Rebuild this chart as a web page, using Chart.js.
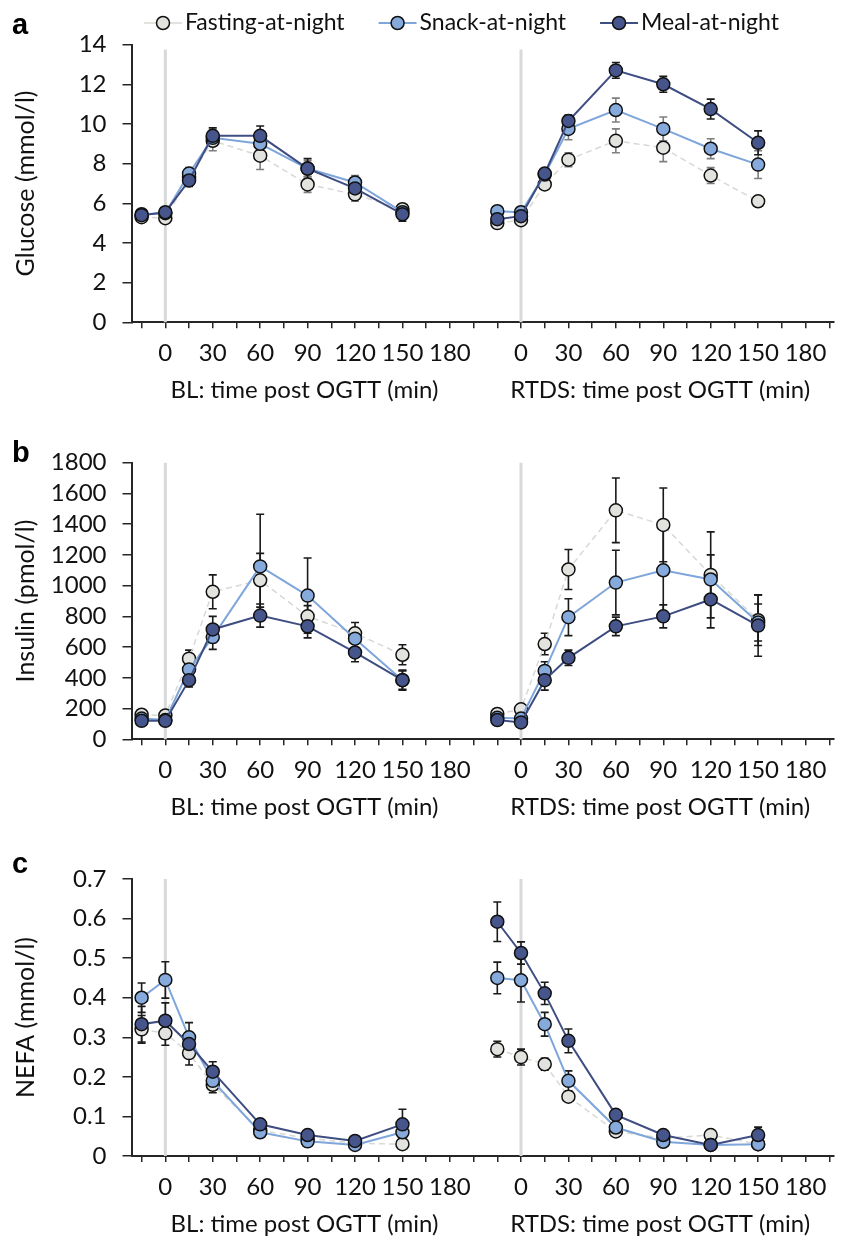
<!DOCTYPE html>
<html><head><meta charset="utf-8">
<script src="https://cdn.jsdelivr.net/npm/chart.js@4.4.0/dist/chart.umd.min.js"></script>
<style>
body{margin:0;background:#fff;width:846px;height:1245px;overflow:hidden;position:relative}
canvas{position:absolute;left:0}
</style></head>
<body>
<canvas id="ca" width="846" height="410" style="top:0px"></canvas>
<canvas id="cb" width="846" height="410" style="top:410px"></canvas>
<canvas id="cc" width="846" height="425" style="top:820px"></canvas>
<script>
// ---------------- DATA ----------------
const timePoints = [-15, 0, 15, 30, 60, 90, 120, 150];
const seriesNames = ['Fasting-at-night', 'Snack-at-night', 'Meal-at-night'];
const xTickLabels = [0, 30, 60, 90, 120, 150, 180];
const periodTitles = ['BL: time post OGTT (min)', 'RTDS: time post OGTT (min)'];

const glucoseTicks = [0, 2, 4, 6, 8, 10, 12, 14];
const insulinTicks = [0, 200, 400, 600, 800, 1000, 1200, 1400, 1600, 1800];
const nefaTicks = [0, 0.1, 0.2, 0.3, 0.4, 0.5, 0.6, 0.7];

// Glucose (mmol/l)
const glucoseBLFasting = [5.3, 5.25, 7.3, 9.15, 8.4, 6.95, 6.45, 5.7];
const glucoseBLFastingErr = [0.2, 0.2, 0.3, 0.5, 0.7, 0.4, 0.35, 0.25];
const glucoseBLSnack = [5.45, 5.5, 7.5, 9.3, 9.0, 7.75, 7.05, 5.55];
const glucoseBLSnackErr = [0.2, 0.2, 0.3, 0.4, 0.5, 0.4, 0.35, 0.3];
const glucoseBLMeal = [5.4, 5.55, 7.15, 9.4, 9.4, 7.75, 6.75, 5.45];
const glucoseBLMealErr = [0.2, 0.2, 0.3, 0.4, 0.5, 0.5, 0.35, 0.35];
const glucoseRTFasting = [5.0, 5.15, 6.95, 8.2, 9.15, 8.8, 7.4, 6.1];
const glucoseRTFastingErr = [0.15, 0.15, 0.25, 0.35, 0.6, 0.7, 0.4, 0.1];
const glucoseRTSnack = [5.6, 5.55, 7.45, 9.75, 10.7, 9.75, 8.75, 7.95];
const glucoseRTSnackErr = [0.15, 0.15, 0.3, 0.55, 0.6, 0.6, 0.5, 0.7];
const glucoseRTMeal = [5.2, 5.35, 7.5, 10.15, 12.7, 12.0, 10.75, 9.05];
const glucoseRTMealErr = [0.15, 0.15, 0.25, 0.3, 0.4, 0.4, 0.5, 0.6];

// Insulin (pmol/l)
const insulinBLFasting = [160, 155, 525, 960, 1035, 800, 690, 550];
const insulinBLFastingErr = [25, 20, 55, 110, 175, 70, 70, 65];
const insulinBLSnack = [135, 125, 455, 665, 1125, 935, 655, 385];
const insulinBLSnackErr = [20, 20, 50, 80, 340, 245, 65, 60];
const insulinBLMeal = [120, 120, 385, 715, 805, 735, 565, 385];
const insulinBLMealErr = [20, 20, 45, 85, 75, 75, 60, 65];
const insulinRTFasting = [165, 195, 620, 1105, 1490, 1395, 1070, 775];
const insulinRTFastingErr = [25, 30, 70, 130, 210, 240, 280, 165];
const insulinRTSnack = [140, 135, 445, 795, 1020, 1100, 1040, 760];
const insulinRTSnackErr = [25, 20, 60, 120, 210, 270, 160, 120];
const insulinRTMeal = [125, 110, 385, 530, 735, 800, 910, 740];
const insulinRTMealErr = [20, 15, 65, 50, 60, 75, 185, 200];

// NEFA (mmol/l)
const nefaBLFasting = [0.32, 0.31, 0.26, 0.18, 0.065, 0.045, 0.032, 0.03];
const nefaBLFastingErr = [0.035, 0.03, 0.03, 0.02, 0.01, 0.008, 0.006, 0.005];
const nefaBLSnack = [0.40, 0.445, 0.30, 0.19, 0.06, 0.037, 0.028, 0.06];
const nefaBLSnackErr = [0.037, 0.046, 0.037, 0.02, 0.01, 0.008, 0.006, 0.015];
const nefaBLMeal = [0.333, 0.342, 0.283, 0.213, 0.08, 0.053, 0.038, 0.08];
const nefaBLMealErr = [0.045, 0.045, 0.03, 0.025, 0.01, 0.008, 0.008, 0.038];
const nefaRTFasting = [0.27, 0.25, 0.232, 0.15, 0.062, 0.045, 0.053, 0.03];
const nefaRTFastingErr = [0.02, 0.02, 0.015, 0.01, 0.008, 0.006, 0.006, 0.005];
const nefaRTSnack = [0.45, 0.444, 0.333, 0.19, 0.072, 0.036, 0.028, 0.03];
const nefaRTSnackErr = [0.04, 0.055, 0.03, 0.025, 0.01, 0.006, 0.005, 0.006];
const nefaRTMeal = [0.592, 0.513, 0.411, 0.291, 0.104, 0.053, 0.028, 0.053];
const nefaRTMealErr = [0.05, 0.028, 0.028, 0.03, 0.01, 0.006, 0.005, 0.02];

// ---------------- LAYOUT / STYLE ----------------
const RTDS_OFFSET = 225;       // RTDS block shifted along the shared time axis
const X_STEP = 15;
const X_MIN = -21.4, X_MAX = 423;
const FONT = "Lato, 'Open Sans', sans-serif";
const FONT_SIZE = 24;
const AXIS_COLOR = '#262626';
const TEXT_COLOR = '#111111';
const seriesStyles = [
  { line: '#d8d8d4', fill: '#e2e2de', dash: [6, 4], width: 1.5 },
  { line: '#7ea6da', fill: '#86aadc', dash: [], width: 2 },
  { line: '#3e4d82', fill: '#46558c', dash: [], width: 2 }
];

const xTickValues = [];
for (let v = -15; v <= RTDS_OFFSET + 195; v += X_STEP) xTickValues.push(v);

function xLabel(v) {
  const t = v >= 195 ? v - RTDS_OFFSET : v;
  return xTickLabels.includes(t) ? String(t) : '';
}
function makePoints(bl, rt) {
  const pts = timePoints.map((t, i) => ({ x: t, y: bl[i] }));
  pts.push({ x: 200, y: null });
  timePoints.forEach((t, i) => pts.push({ x: t + RTDS_OFFSET, y: rt[i] }));
  return pts;
}
function makeErrs(bl, rt) { return bl.concat([null], rt); }

const decorPlugin = {
  id: 'decor',
  beforeDatasetsDraw(chart, args, o) {
    const { ctx, chartArea, scales: { x, y } } = chart;
    ctx.save();
    ctx.strokeStyle = '#d9d9d9'; ctx.lineWidth = 3;
    [0, RTDS_OFFSET].forEach(v => {
      const px = x.getPixelForValue(v);
      ctx.beginPath(); ctx.moveTo(px, chartArea.top + (o.vTop || 0)); ctx.lineTo(px, chartArea.bottom); ctx.stroke();
    });
    chart.data.datasets.forEach(ds => {
      ctx.strokeStyle = ds.errColor; ctx.lineWidth = 1.6;
      ds.data.forEach((pt, i) => {
        if (pt.y == null) return;
        const e = ds.errors[i]; if (!e) return;
        const px = x.getPixelForValue(pt.x);
        const y1 = y.getPixelForValue(pt.y - e), y2 = y.getPixelForValue(pt.y + e);
        ctx.beginPath();
        ctx.moveTo(px, y1); ctx.lineTo(px, y2);
        ctx.moveTo(px - 4, y1); ctx.lineTo(px + 4, y1);
        ctx.moveTo(px - 4, y2); ctx.lineTo(px + 4, y2);
        ctx.stroke();
      });
    });
    ctx.restore();
  },
  afterDraw(chart, args, o) {
    const { ctx, chartArea, scales: { x } } = chart;
    ctx.save();
    // panel letter
    ctx.fillStyle = '#000'; ctx.font = "bold 29px 'Liberation Sans', Arial, sans-serif";
    ctx.textAlign = 'left'; ctx.textBaseline = 'alphabetic';
    ctx.fillText(o.letter, 12, o.letterY);
    // y title
    ctx.fillStyle = TEXT_COLOR; ctx.font = (FONT_SIZE + 1) + 'px ' + FONT;
    ctx.save();
    ctx.translate(26, (chartArea.top + chartArea.bottom) / 2);
    ctx.rotate(-Math.PI / 2);
    ctx.textAlign = 'center'; ctx.textBaseline = 'middle';
    ctx.fillText(o.yTitle, 0, 0);
    ctx.restore();
    // x titles
    ctx.font = FONT_SIZE + 'px ' + FONT;
    ctx.textAlign = 'center'; ctx.textBaseline = 'middle';
    ctx.fillText(periodTitles[0], x.getPixelForValue(88), chartArea.bottom + 68);
    ctx.fillText(periodTitles[1], x.getPixelForValue(88 + RTDS_OFFSET), chartArea.bottom + 68);
    // legend
    if (o.legend) {
      ctx.font = (FONT_SIZE - 1) + 'px ' + FONT;
      let lx = 144; const ly = 23;
      chart.data.datasets.forEach((ds, k) => {
        const st = seriesStyles[k];
        ctx.strokeStyle = st.line; ctx.lineWidth = st.width; ctx.setLineDash(k === 0 ? [] : st.dash);
        ctx.beginPath(); ctx.moveTo(lx, ly); ctx.lineTo(lx + 38, ly); ctx.stroke();
        ctx.setLineDash([]);
        ctx.beginPath(); ctx.arc(lx + 19, ly, 6.5, 0, Math.PI * 2);
        ctx.fillStyle = st.fill; ctx.fill();
        ctx.strokeStyle = '#111'; ctx.lineWidth = 1.5; ctx.stroke();
        ctx.fillStyle = TEXT_COLOR; ctx.textAlign = 'left'; ctx.textBaseline = 'middle';
        ctx.fillText(ds.label, lx + 41, ly);
        lx += 41 + ctx.measureText(ds.label).width + 34;
      });
    }
    ctx.restore();
  }
};

function buildPanel(p) {
  const canvas = document.getElementById(p.id);
  const H = canvas.height;
  const datasets = p.series.map((s, k) => {
    const st = seriesStyles[k];
    return {
      label: seriesNames[k],
      data: makePoints(s[0], s[2]),
      errors: makeErrs(s[1], s[3]),
      errColor: p.errColors[k],
      borderColor: st.line, borderWidth: st.width, borderDash: st.dash,
      backgroundColor: st.fill, pointBackgroundColor: st.fill,
      pointBorderColor: '#111', pointBorderWidth: 1.5,
      pointRadius: 6.5, pointHoverRadius: 6.5,
      order: 3 - k, tension: 0, spanGaps: false, fill: false
    };
  });
  return new Chart(canvas, {
    type: 'line',
    data: { datasets },
    plugins: [decorPlugin],
    options: {
      responsive: false, animation: false, devicePixelRatio: 1, events: [],
      layout: { padding: { top: p.top, right: 12, left: 0, bottom: 0 } },
      plugins: {
        legend: { display: false }, tooltip: { enabled: false },
        decor: { letter: p.letter, letterY: p.letterY, yTitle: p.yTitle, legend: !!p.legend, vTop: p.vTop || 0 }
      },
      scales: {
        x: {
          type: 'linear', min: X_MIN, max: X_MAX,
          afterBuildTicks: sc => { sc.ticks = xTickValues.map(v => ({ value: v })); },
          afterFit: sc => { sc.height = H - p.bottom; },
          border: { display: true, color: AXIS_COLOR, width: 2 },
          grid: { drawOnChartArea: false, drawTicks: true, tickLength: 6, color: AXIS_COLOR, lineWidth: 1.5 },
          ticks: { autoSkip: false, maxRotation: 0, minRotation: 0, padding: 11, color: TEXT_COLOR,
                   font: { family: FONT, size: FONT_SIZE }, callback: v => xLabel(v) }
        },
        y: {
          type: 'linear', min: p.ticks[0], max: p.ticks[p.ticks.length - 1],
          afterBuildTicks: sc => { sc.ticks = p.ticks.map(v => ({ value: v })); },
          afterFit: sc => { sc.width = 131.5; },
          border: { display: true, color: AXIS_COLOR, width: 2 },
          grid: { drawOnChartArea: false, drawTicks: true, tickLength: 9, color: AXIS_COLOR, lineWidth: 1.5 },
          ticks: { autoSkip: false, padding: 16, color: TEXT_COLOR, font: { family: FONT, size: FONT_SIZE },
                   callback: v => String(+v.toFixed(1)) }
        }
      }
    }
  });
}

const GREY = '#7f7f7f', BLACK = '#1a1a1a';
buildPanel({
  id: 'ca', letter: 'a', letterY: 34, top: 44.6, bottom: 322.3, legend: true, vTop: 5,
  yTitle: 'Glucose (mmol/l)', ticks: glucoseTicks, errColors: [GREY, GREY, BLACK],
  series: [
    [glucoseBLFasting, glucoseBLFastingErr, glucoseRTFasting, glucoseRTFastingErr],
    [glucoseBLSnack, glucoseBLSnackErr, glucoseRTSnack, glucoseRTSnackErr],
    [glucoseBLMeal, glucoseBLMealErr, glucoseRTMeal, glucoseRTMealErr]
  ]
});
buildPanel({
  id: 'cb', letter: 'b', letterY: 462 - 410, top: 462.7 - 410, bottom: 739.3 - 410,
  yTitle: 'Insulin (pmol/l)', ticks: insulinTicks, errColors: [BLACK, BLACK, BLACK],
  series: [
    [insulinBLFasting, insulinBLFastingErr, insulinRTFasting, insulinRTFastingErr],
    [insulinBLSnack, insulinBLSnackErr, insulinRTSnack, insulinRTSnackErr],
    [insulinBLMeal, insulinBLMealErr, insulinRTMeal, insulinRTMealErr]
  ]
});
buildPanel({
  id: 'cc', letter: 'c', letterY: 873 - 820, top: 879 - 820, bottom: 1156 - 820,
  yTitle: 'NEFA (mmol/l)', ticks: nefaTicks, errColors: [BLACK, BLACK, BLACK],
  series: [
    [nefaBLFasting, nefaBLFastingErr, nefaRTFasting, nefaRTFastingErr],
    [nefaBLSnack, nefaBLSnackErr, nefaRTSnack, nefaRTSnackErr],
    [nefaBLMeal, nefaBLMealErr, nefaRTMeal, nefaRTMealErr]
  ]
});
</script>
</body></html>
